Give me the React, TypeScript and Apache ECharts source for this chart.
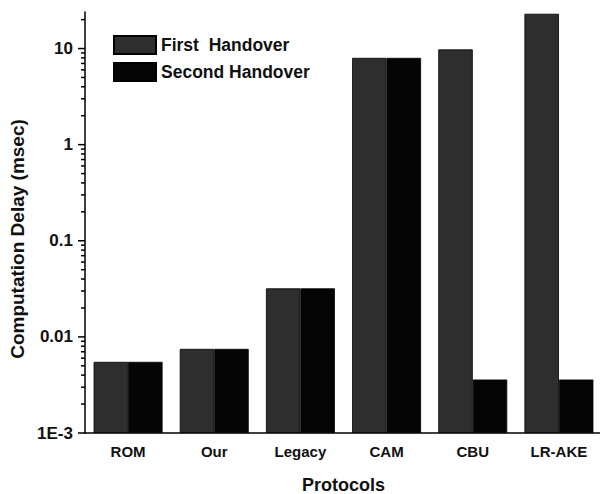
import React, { useEffect, useRef } from "react";
import * as echarts from "echarts";

const categories = ["ROM", "Our", "Legacy", "CAM", "CBU", "LR-AKE"];
const firstHandover = [0.0055, 0.0075, 0.032, 8.0, 9.8, 23];
const secondHandover = [0.0055, 0.0075, 0.032, 8.0, 0.0036, 0.0036];
const majorTicks = [0.001, 0.01, 0.1, 1, 10];
const minorTicks = [
  0.002, 0.003, 0.004, 0.005, 0.006, 0.007, 0.008, 0.009,
  0.02, 0.03, 0.04, 0.05, 0.06, 0.07, 0.08, 0.09,
  0.2, 0.3, 0.4, 0.5, 0.6, 0.7, 0.8, 0.9,
  2, 3, 4, 5, 6, 7, 8, 9,
  20,
];
const yMin = 0.001;
const yMax = 24;

const FONT = "'Liberation Sans', Arial, sans-serif";

export default function App() {
  const ref = useRef<HTMLDivElement>(null);
  useEffect(() => {
    if (!ref.current) return;
    const chart = echarts.init(ref.current, null, { renderer: "svg" });
    const tickData = [
      ...majorTicks.map((v) => [0, v, 7]),
      ...minorTicks.map((v) => [0, v, 4]),
    ];
    chart.setOption({
      animation: false,
      backgroundColor: "#fff",
      grid: { left: 85, right: -2, top: 12, bottom: 61, containLabel: false, outerBoundsMode: "none" },
      legend: {
        data: ["First  Handover", "Second Handover"],
        orient: "vertical",
        left: 108,
        top: 30,
        itemWidth: 42,
        itemHeight: 18,
        itemGap: 7,
        icon: "rect",
        textStyle: { fontFamily: FONT, fontWeight: "bold", fontSize: 17.5, color: "#111" },
      },
      graphic: [
        {
          type: "text",
          x: 17,
          y: 239,
          rotation: Math.PI / 2,
          style: {
            text: "Computation Delay (msec)",
            fontFamily: FONT,
            fontWeight: "bold",
            fontSize: 19,
            fill: "#111",
            align: "center",
            verticalAlign: "middle",
          },
        },
      ],
      xAxis: [
        {
          type: "category",
          data: categories,
          axisLine: { lineStyle: { color: "#000", width: 1.5 } },
          axisTick: { alignWithLabel: true, length: 7, lineStyle: { color: "#000", width: 1.5 } },
          axisLabel: { fontFamily: FONT, fontWeight: "bold", fontSize: 15, color: "#111", margin: 11 },
          name: "Protocols",
          nameLocation: "middle",
          nameGap: 43,
          nameTextStyle: { fontFamily: FONT, fontWeight: "bold", fontSize: 18, color: "#111" },
        },
        {
          type: "category",
          data: categories,
          position: "bottom",
          axisLine: { show: false },
          axisTick: { alignWithLabel: false, length: 4, lineStyle: { color: "#000", width: 1.5 } },
          axisLabel: { show: false },
        },
      ],
      yAxis: {
        type: "log",
        logBase: 10,
        min: yMin,
        max: yMax,
        startValue: yMin,
        axisLine: { show: true, lineStyle: { color: "#000", width: 1.5 } },
        axisTick: { show: false },
        splitLine: { show: false },
        axisLabel: {
          fontFamily: FONT,
          fontWeight: "bold",
          fontSize: 17,
          color: "#111",
          margin: 12,
          showMaxLabel: false,
          formatter: (v: number) => {
            const lg = Math.log10(v);
            if (Math.abs(lg - Math.round(lg)) > 1e-6) return "";
            if (Math.abs(v - 0.001) < 1e-9) return "1E-3";
            return String(Number(v.toPrecision(6)));
          },
        },
      },
      series: [
        {
          name: "First  Handover",
          type: "bar",
          data: firstHandover,
          barGap: "0%",
          barCategoryGap: "20%",
          itemStyle: { color: "#2e2e2e", borderColor: "#000", borderWidth: 0.8 },
        },
        {
          name: "Second Handover",
          type: "bar",
          data: secondHandover,
          barGap: "0%",
          barCategoryGap: "20%",
          itemStyle: { color: "#050505", borderColor: "#000", borderWidth: 0.8 },
        },
        {
          name: "yticks",
          type: "custom",
          silent: true,
          clip: false,
          z: 10,
          encode: { x: 0, y: 1 },
          data: tickData,
          renderItem: (params: any, api: any) => {
            const v = api.value(1);
            const len = api.value(2);
            const p = api.coord([0, v]);
            const x0 = params.coordSys.x;
            return {
              type: "line",
              shape: { x1: x0 - len, y1: p[1], x2: x0, y2: p[1] },
              style: { stroke: "#000", lineWidth: 1.5 },
            };
          },
        },
      ],
    });
    return () => chart.dispose();
  }, []);
  return (
    <div
      ref={ref}
      style={{ position: "fixed", left: 0, top: 0, width: 600, height: 494, background: "#fff" }}
    />
  );
}
